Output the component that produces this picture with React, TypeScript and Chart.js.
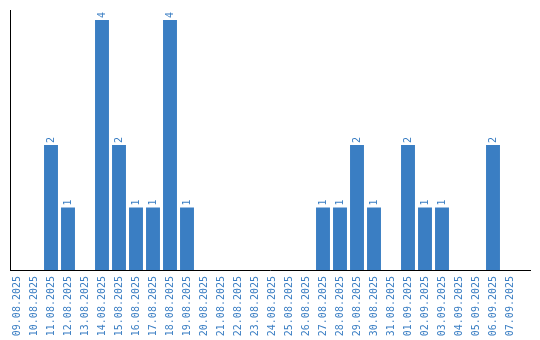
import React, { useEffect, useRef } from "react";
import { Chart, registerables } from "chart.js";

Chart.register(...registerables);

const categories = [
  "09.08.2025", "10.08.2025", "11.08.2025", "12.08.2025", "13.08.2025",
  "14.08.2025", "15.08.2025", "16.08.2025", "17.08.2025", "18.08.2025",
  "19.08.2025", "20.08.2025", "21.08.2025", "22.08.2025", "23.08.2025",
  "24.08.2025", "25.08.2025", "26.08.2025", "27.08.2025", "28.08.2025",
  "29.08.2025", "30.08.2025", "31.08.2025", "01.09.2025", "02.09.2025",
  "03.09.2025", "04.09.2025", "05.09.2025", "06.09.2025", "07.09.2025",
];
const values = [
  0, 0, 2, 1, 0,
  4, 2, 1, 1, 4,
  1, 0, 0, 0, 0,
  0, 0, 0, 1, 1,
  2, 1, 0, 2, 1,
  1, 0, 0, 2, 0,
];

const BLUE = "#3a7ec3";
const FONT = { family: "'DejaVu Sans Mono', monospace", size: 10 };

const valueLabels = {
  id: "valueLabels",
  afterDatasetsDraw(chart: any) {
    const ctx = chart.ctx;
    const meta = chart.getDatasetMeta(0);
    ctx.save();
    ctx.fillStyle = BLUE;
    ctx.font = `${FONT.size}px ${FONT.family}`;
    ctx.textAlign = "left";
    ctx.textBaseline = "middle";
    meta.data.forEach((bar: any, i: number) => {
      const v = values[i];
      if (!v) return;
      ctx.save();
      ctx.translate(bar.x, bar.y - 2);
      ctx.rotate(-Math.PI / 2);
      ctx.fillText(String(v), 0, 0);
      ctx.restore();
    });
    ctx.restore();
  },
};

const axisLines = {
  id: "axisLines",
  afterDraw(chart: any) {
    const { ctx, chartArea } = chart;
    ctx.save();
    ctx.strokeStyle = "#000";
    ctx.lineWidth = 1;
    ctx.beginPath();
    ctx.moveTo(chartArea.left + 2, chartArea.top);
    ctx.lineTo(chartArea.left + 2, chartArea.bottom + 0.5);
    ctx.moveTo(chartArea.left + 1.5, chartArea.bottom + 0.5);
    ctx.lineTo(chartArea.right + 12.5, chartArea.bottom + 0.5);
    ctx.stroke();
    ctx.restore();
  },
};

export default function App() {
  const ref = useRef<HTMLCanvasElement>(null);
  useEffect(() => {
    if (!ref.current) return;
    const chart = new Chart(ref.current, {
      type: "bar",
      data: {
        labels: categories,
        datasets: [
          {
            data: values,
            backgroundColor: BLUE,
            barPercentage: 0.82,
            categoryPercentage: 1,
          },
        ],
      },
      options: {
        animation: false,
        responsive: true,
        maintainAspectRatio: false,
        layout: { padding: { left: 8.5, right: 21.5, top: 10, bottom: 0 } },
        plugins: {
          legend: { display: false },
          tooltip: { enabled: false },
        },
        scales: {
          x: {
            grid: { display: false, drawTicks: false },
            border: { display: false },
            ticks: {
              color: BLUE,
              font: FONT,
              autoSkip: false,
              maxRotation: 90,
              minRotation: 90,
              padding: 6,
            },
            afterFit: (scale: any) => {
              scale.height = 70;
            },
          },
          y: {
            display: false,
            min: 0,
            max: 4.16,
          },
        },
      },
      plugins: [valueLabels, axisLines],
    });
    return () => chart.destroy();
  }, []);
  return (
    <div style={{ position: "fixed", left: 0, top: 0, width: 540, height: 340, background: "#fff" }}>
      <canvas ref={ref} />
    </div>
  );
}
